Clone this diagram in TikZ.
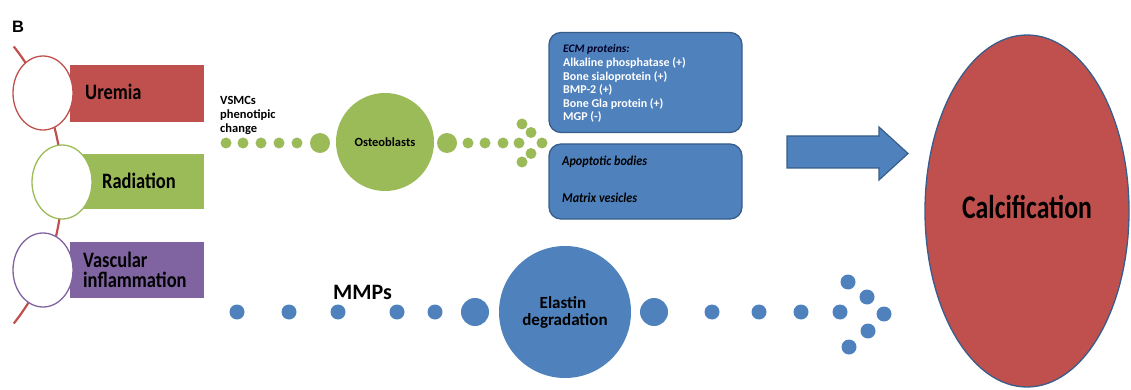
\documentclass[tikz,border=0pt]{standalone}
\usepackage{fontspec}
\setmainfont{Carlito}
\newfontfamily\condA[FakeStretch=0.84]{Carlito}
\newfontfamily\condC[FakeStretch=0.9]{Carlito}
\newfontfamily\condB[FakeStretch=0.78]{Carlito}
\newfontfamily\arialB{Liberation Sans}
\usetikzlibrary{shapes.geometric}
\definecolor{cred}{HTML}{C0504D}
\definecolor{cgreen}{HTML}{9BBB59}
\definecolor{cpurple}{HTML}{8064A2}
\definecolor{cblue}{HTML}{4F81BD}
\definecolor{cdark}{HTML}{385D8A}
\tikzset{
  dotg/.style={circle, fill=cgreen, inner sep=0pt, minimum size=11pt},
  bigg/.style={circle, fill=cgreen, inner sep=0pt, minimum size=20pt},
  dotb/.style={circle, fill=cblue, inner sep=0pt, minimum size=15pt},
  bigb/.style={circle, fill=cblue, inner sep=0pt, minimum size=28pt},
  bar/.style={rectangle, inner sep=0pt},
  ring/.style={ellipse, fill=white, line width=1.3pt, inner sep=0pt, minimum width=60pt, minimum height=74pt},
  lab/.style={anchor=base west, inner sep=0pt, font={\condA\bfseries\fontsize{22}{24}\selectfont}},
  bluebox/.style={rectangle, rounded corners=12pt, fill=cblue, draw=cdark, line width=1.3pt, inner sep=0pt},
  boxtxt/.style={anchor=base west, inner sep=0pt, text=white, font={\bfseries\fontsize{12}{13}\selectfont}},
  boxital/.style={anchor=base west, inner sep=0pt, text=black, font={\condC\bfseries\itshape\fontsize{13.5}{15}\selectfont}},
  small/.style={anchor=base west, inner sep=0pt, font={\bfseries\fontsize{12.5}{14}\selectfont}}
}
\begin{document}
\begin{tikzpicture}[x=1pt,y=-1pt]
\useasboundingbox (0,0) rectangle (1131,390);
% panel letter
\node[anchor=base west, inner sep=0pt, font={\arialB\bfseries\fontsize{16.5}{18}\selectfont}] (B) at (12,33) {B};
% spine arc
\draw[cred, line width=2.2pt] (-161,185) ++(-38.4:223) arc[start angle=-38.4, end angle=38.4, radius=223];
% bars
\node[bar, fill=cred, minimum width=134pt, minimum height=57pt] (r1) at (137,93.5) {};
\node[bar, fill=cgreen, minimum width=121pt, minimum height=55pt] (r2) at (143.5,181.5) {};
\node[bar, fill=cpurple, minimum width=134pt, minimum height=56pt] (r3) at (137,270) {};
% rings
\node[ring, draw=cred] (c1) at (43,93) {};
\node[ring, draw=cgreen] (c2) at (62,182) {};
\node[ring, draw=cpurple] (c3) at (43,270) {};
% labels
\node[lab] (l1) at (85,100) {Uremia};
\node[lab] (l2) at (102,188) {Radiation};
\node[lab] (l3a) at (83,267) {Vascular};
\node[lab] (l3b) at (83,287) {inflammation};
% VSMCs
\node[small] (v1) at (220,105) {VSMCs};
\node[small] (v2) at (220,119) {phenotipic};
\node[small] (v3) at (220,133) {change};
% green row
\foreach \x [count=\i] in {226,243,261,279,297}
  \node[dotg] (g\i) at (\x,143) {};
\node[bigg] (gb1) at (320,143) {};
\node[circle, fill=cgreen, inner sep=0pt, minimum size=98pt, font={\bfseries\fontsize{12.5}{14}\selectfont}] (ost) at (385,142) {Osteoblasts};
\node[bigg] (gb2) at (447,143) {};
\foreach \x [count=\i] in {468,485,503}
  \node[dotg] (gr\i) at (\x,143) {};
\foreach \x/\y [count=\i] in {519/143,522/124,531/132.5,542/143,531/153.5,522/162}
  \node[dotg] (ga\i) at (\x,\y) {};
% blue boxes
\node[bluebox, minimum width=193pt, minimum height=100pt] (ecm) at (645.5,82.5) {};
\node[anchor=base west, inner sep=0pt, text=black!85!blue, font={\bfseries\itshape\fontsize{11.5}{13}\selectfont}] (e0) at (563,53) {ECM proteins:};
\node[boxtxt] (e1) at (563,67) {Alkaline phosphatase (+)};
\node[boxtxt] (e2) at (563,80.5) {Bone sialoprotein (+)};
\node[boxtxt] (e3) at (563,94) {BMP-2 (+)};
\node[boxtxt] (e4) at (563,107.5) {Bone Gla protein (+)};
\node[boxtxt] (e5) at (563,121) {MGP (-)};
\node[bluebox, minimum width=193pt, minimum height=75pt] (ves) at (645.5,181.5) {};
\node[boxital] (a1) at (562,166) {Apoptotic bodies};
\node[boxital] (a2) at (562,202) {Matrix vesicles};
% block arrow
\draw[fill=cblue, draw=cdark, line width=1.2pt, line join=miter]
  (787,136) -- (879,136) -- (879,127) -- (908,153.5) -- (879,180) -- (879,168) -- (787,168) -- cycle;
% calcification
\node[ellipse, fill=cred, draw=cdark, line width=1.3pt, inner sep=0pt, minimum width=204pt, minimum height=352pt] (calc) at (1027,211) {};
\node[anchor=base, inner sep=0pt, font={\condB\bfseries\fontsize{33}{36}\selectfont}] (calct) at (1027,218) {Calcification};
% blue row
\foreach \x [count=\i] in {237,289,338,397,435}
  \node[dotb] (b\i) at (\x,312) {};
\node[bigb] (bb1) at (475,312) {};
\node[circle, fill=cblue, inner sep=0pt, minimum size=132pt] (ela) at (565,312) {};
\node[anchor=base, inner sep=0pt, font={\bfseries\fontsize{17}{19}\selectfont}] (ela1) at (563,308) {Elastin};
\node[anchor=base, inner sep=0pt, font={\bfseries\fontsize{17}{19}\selectfont}] (ela2) at (565,325) {degradation};
\node[bigb] (bb2) at (654,312) {};
\foreach \x [count=\i] in {712,759,801}
  \node[dotb] (br\i) at (\x,312) {};
\foreach \x/\y [count=\i] in {840/312,848/282,867/297,884/314,868/331,849/347}
  \node[dotb] (ba\i) at (\x,\y) {};
\node[anchor=base west, inner sep=0pt, font={\bfseries\fontsize{22}{24}\selectfont}] (mmp) at (333,299) {MMPs};
\end{tikzpicture}
\end{document}
